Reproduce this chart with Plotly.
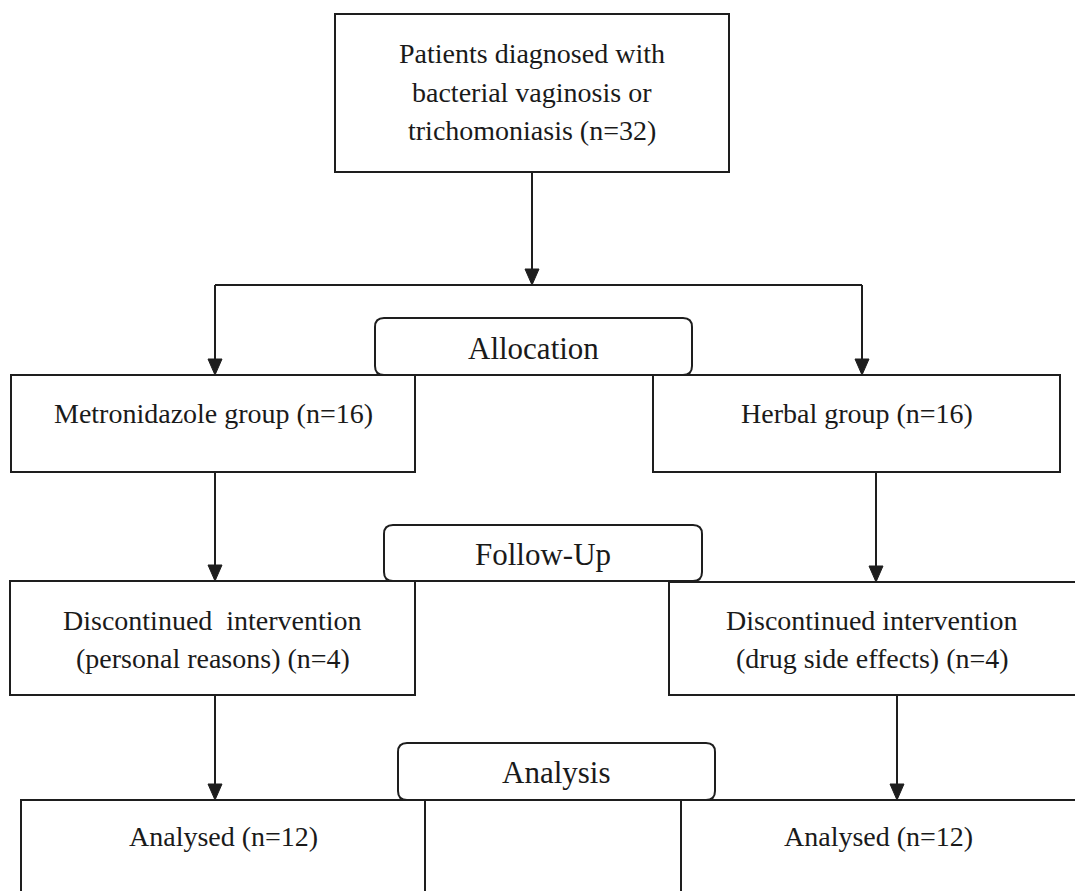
import plotly.graph_objects as go

# ---------------- data (texts and counts) ----------------
stage_labels = ["Allocation", "Follow-Up", "Analysis"]
total_n = 32
group_names = ["Metronidazole group", "Herbal group"]
group_n = [16, 16]
discontinued_reasons = ["personal reasons", "drug side effects"]
discontinued_n = [4, 4]
analysed_n = [12, 12]

enroll_lines = ["Patients diagnosed with", "bacterial vaginosis or",
                f"trichomoniasis (n={total_n})"]
group_lines = [[f"{g} (n={n})"] for g, n in zip(group_names, group_n)]
disc_lines = [["Discontinued\u00a0\u00a0intervention", f"({discontinued_reasons[0]}) (n={discontinued_n[0]})"],
              ["Discontinued intervention", f"({discontinued_reasons[1]}) (n={discontinued_n[1]})"]]
analysed_lines = [[f"Analysed (n={n})"] for n in analysed_n]

# ---------------- layout geometry (pixels) ----------------
W, H = 1075, 891
FS, LFS = 28, 31
LINE = "#1e1e1e"
TXT = "#1a1a1a"
FONT = "Liberation Serif, Times New Roman, serif"

rect_boxes = [
    dict(x0=335, x1=729, y0=14, y1=172, lines=enroll_lines, base=[63, 102, 140]),
    dict(x0=11, x1=415, y0=375, y1=472, lines=group_lines[0], base=[423]),
    dict(x0=653, x1=1060, y0=375, y1=472, lines=group_lines[1], base=[423]),
    dict(x0=10, x1=415, y0=581, y1=695, lines=disc_lines[0], base=[630, 668]),
    dict(x0=669, x1=1085, y0=582, y1=695, lines=disc_lines[1], base=[630, 668]),
    dict(x0=21, x1=425, y0=800, y1=905, lines=analysed_lines[0], base=[846]),
    dict(x0=681, x1=1085, y0=800, y1=905, lines=analysed_lines[1], base=[846]),
]
# middle empty region in last row
extra_lines = [((425, 800), (681, 800))]

round_boxes = [
    dict(x0=375, x1=692, y0=318, y1=375, base=359),
    dict(x0=384, x1=702, y0=525, y1=581, base=565),
    dict(x0=398, x1=715, y0=743, y1=800, base=783),
]

arrows = [
    ((532, 172), (532, 285)),
    ((215, 285), (215, 375)),
    ((862, 285), (862, 375)),
    ((215, 472), (215, 581)),
    ((876, 472), (876, 582)),
    ((215, 695), (215, 800)),
    ((897, 695), (897, 800)),
]
branch = ((215, 285), (862, 285))

fig = go.Figure()
shapes = []
annotations = []


def rounded_path(x0, y0, x1, y1, r=9):
    return (f"M {x0+r},{y0} L {x1-r},{y0} Q {x1},{y0} {x1},{y0+r} "
            f"L {x1},{y1-r} Q {x1},{y1} {x1-r},{y1} L {x0+r},{y1} "
            f"Q {x0},{y1} {x0},{y1-r} L {x0},{y0+r} Q {x0},{y0} {x0+r},{y0} Z")


for rb, lab in zip(round_boxes, stage_labels):
    shapes.append(dict(type="path", path=rounded_path(rb["x0"], rb["y0"], rb["x1"], rb["y1"]),
                       line=dict(color=LINE, width=2), fillcolor="white", layer="below"))
    annotations.append(dict(x=(rb["x0"] + rb["x1"]) / 2, y=rb["base"] - 0.34 * LFS, text=lab,
                            showarrow=False, xanchor="center", yanchor="middle",
                            font=dict(family=FONT, size=LFS, color=TXT)))

for b in rect_boxes:
    shapes.append(dict(type="rect", x0=b["x0"], x1=b["x1"], y0=b["y0"], y1=b["y1"],
                       line=dict(color=LINE, width=2), fillcolor="rgba(0,0,0,0)"))
    cx = (b["x0"] + min(b["x1"], W)) / 2
    for t, bl in zip(b["lines"], b["base"]):
        annotations.append(dict(x=cx, y=bl - 0.34 * FS, text=t, showarrow=False,
                                xanchor="center", yanchor="middle",
                                font=dict(family=FONT, size=FS, color=TXT)))

for (a, b) in extra_lines + [branch]:
    shapes.append(dict(type="line", x0=a[0], y0=a[1], x1=b[0], y1=b[1],
                       line=dict(color=LINE, width=2)))

AW, AH = 7, 16
for (a, b) in arrows:
    shapes.append(dict(type="line", x0=a[0], y0=a[1], x1=b[0], y1=b[1] - AH + 2,
                       line=dict(color=LINE, width=2)))
    x, y = b
    shapes.append(dict(type="path", path=f"M {x-AW},{y-AH} L {x+AW},{y-AH} L {x},{y} Z",
                       fillcolor=LINE, line=dict(color=LINE, width=1)))

fig.update_layout(
    width=W, height=H,
    margin=dict(l=0, r=0, t=0, b=0),
    paper_bgcolor="white", plot_bgcolor="white",
    xaxis=dict(range=[0, W], visible=False, fixedrange=True),
    yaxis=dict(range=[H, 0], visible=False, fixedrange=True),
    shapes=shapes, annotations=annotations, showlegend=False,
)

fig.write_html("out.html", config={"displayModeBar": False},
               post_script="document.body.style.margin='0';document.body.style.overflow='hidden';")
